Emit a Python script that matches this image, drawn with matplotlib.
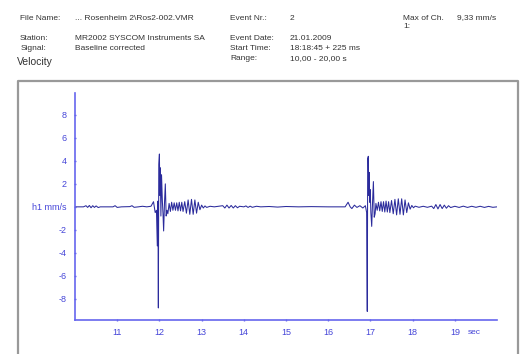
import matplotlib
matplotlib.use("Agg")
import matplotlib.pyplot as plt
from matplotlib.lines import Line2D

plt.rcParams['font.family'] = ['Liberation Sans', 'DejaVu Sans']

# trace: time (s) and velocity (mm/s) at the turning points
t_pre = [10.0, 10.2, 10.26, 10.3, 10.34, 10.38, 10.42, 10.46, 10.5, 10.55, 10.6, 10.9, 10.95, 11.0,
         11.1, 11.3, 11.35, 11.4, 11.5, 11.6, 11.7, 11.8]
v_pre = [0.0, 0.0, 0.1, -0.05, 0.12, -0.08, 0.1, -0.05, 0.08, -0.06, 0.0, 0.0, 0.1, -0.05,
         0.0, 0.02, 0.1, -0.04, 0.0, 0.05, 0.0, 0.05]

t_ev1 = [11.86, 11.90, 11.93, 11.95, 11.965, 11.975, 11.985, 12.0, 12.01, 12.02, 12.035, 12.05,
         12.07, 12.085, 12.1, 12.12, 12.14, 12.16, 12.18, 12.2, 12.23, 12.26, 12.29, 12.32, 12.35,
         12.38, 12.41, 12.44, 12.47, 12.5, 12.53, 12.56, 12.6, 12.64, 12.68, 12.72, 12.76, 12.8,
         12.84, 12.88, 12.92, 12.96, 13.0, 13.04, 13.08, 13.12]
v_ev1 = [0.45, -0.5, -0.3, -3.4, 0.5, -8.8, 3.7, 4.6, 1.0, 3.4, -0.8, 2.8,
         0.5, -0.6, -2.1, 0.3, 2.0, -0.8, -0.3, -0.6, 0.3, -0.4, 0.4, -0.3, 0.35,
         -0.3, 0.35, -0.35, 0.4, -0.35, 0.4, -0.4, 0.45, -0.55, 0.6, -0.65, 0.65, -0.65,
         0.6, -0.55, 0.4, -0.25, 0.15, -0.1, 0.08, -0.05]

t_mid = [13.2, 13.3, 13.5, 13.55, 13.6, 13.65, 13.7, 13.75, 13.8, 13.85, 13.9, 14.0, 14.05, 14.1,
         14.15, 14.2, 14.3, 14.4, 14.6, 14.8, 15.0, 15.3, 15.6, 16.0, 16.3, 16.4, 16.47, 16.52,
         16.56, 16.62, 16.68, 16.75, 16.82, 16.88]
v_mid = [0.05, 0.0, 0.1, -0.1, 0.15, -0.1, 0.12, -0.1, 0.1, -0.08, 0.05, 0.0, 0.08, -0.05,
         0.06, -0.04, 0.05, 0.0, 0.03, -0.02, 0.03, 0.0, 0.02, 0.0, 0.0, 0.0, 0.4, 0.0,
         -0.15, 0.15, -0.05, 0.1, -0.1, 0.1]

t_ev2 = [16.91, 16.925, 16.935, 16.95, 16.96, 16.97, 16.98, 16.995, 17.01, 17.03, 17.05, 17.07,
         17.09, 17.11, 17.13, 17.16, 17.19, 17.22, 17.25, 17.28, 17.31, 17.34, 17.37, 17.40,
         17.43, 17.46, 17.5, 17.54, 17.58, 17.62, 17.66, 17.7, 17.74, 17.78, 17.82, 17.86, 17.9,
         17.94, 17.98, 18.02, 18.06]
v_ev2 = [-0.5, -9.1, 4.2, 4.4, 1.0, 3.0, 0.4, 1.5, -0.5, -1.7, 0.4, 2.2,
         -0.9, -0.6, 0.3, -0.3, 0.4, -0.35, 0.45, -0.4, 0.45, -0.45, 0.5, -0.45,
         0.45, -0.5, 0.55, -0.6, 0.65, -0.7, 0.7, -0.65, 0.7, -0.7, 0.6, -0.5, 0.35,
         -0.2, 0.12, -0.08, 0.06]

t_post = [18.15, 18.25, 18.35, 18.45, 18.5, 18.55, 18.6, 18.65, 18.7, 18.75, 18.8, 18.85, 18.9,
          19.0, 19.1, 19.2, 19.3, 19.4, 19.5, 19.6, 19.7, 19.8, 19.9, 20.0]
v_post = [-0.04, 0.05, -0.04, 0.06, -0.15, 0.2, -0.18, 0.2, -0.15, 0.15, -0.12, 0.1, -0.06,
          0.05, -0.05, 0.06, -0.05, 0.05, -0.04, 0.05, -0.05, 0.04, -0.04, 0.0]

t = t_pre + t_ev1 + t_mid + t_ev2 + t_post
v = v_pre + v_ev1 + v_mid + v_ev2 + v_post

x_ticks = [11, 12, 13, 14, 15, 16, 17, 18, 19]
y_ticks = [-8, -6, -4, -2, 0, 2, 4, 6, 8]
y_labels = ['-8', '-6', '-4', '-2', 'h1 mm/s', '2', '4', '6', '8']

axis_blue = '#6666ee'
text_blue = '#4545d8'

fig = plt.figure(figsize=(5.23, 3.54), dpi=100)
ax = fig.add_axes([0.1434, 0.096, 0.807, 0.641])
ax.plot(t, v, color='#2b2b9c', linewidth=0.75)
ax.set_xlim(10, 20)
ax.set_ylim(-9.85, 9.9)

for side in ['top', 'right']:
    ax.spines[side].set_visible(False)
for side in ['left', 'bottom']:
    ax.spines[side].set_color(axis_blue)
    ax.spines[side].set_linewidth(1.2)

ax.set_xticks(x_ticks)
ax.set_xticklabels([str(x) for x in x_ticks])
ax.set_yticks(y_ticks)
ax.set_yticklabels(y_labels)
ax.tick_params(axis='both', colors=axis_blue, labelcolor=text_blue, labelsize=6.5,
               length=1.5, width=1, direction='inout')
ax.tick_params(axis='x', pad=5)
ax.tick_params(axis='y', pad=5.5)
ax.annotate('sec', xy=(19.3, 0), xycoords=('data', 'axes fraction'), xytext=(0, -6.5),
            textcoords='offset points', fontsize=6, color=text_blue, ha='left', va='top')

# grey frame around the plot area (bottom edge is off the page)
fx = [18 / 523, 18 / 523, 518 / 523, 518 / 523]
fy = [-0.05, 1 - 81 / 354, 1 - 81 / 354, -0.05]
fig.add_artist(Line2D(fx, fy, transform=fig.transFigure, color='#999999', linewidth=1.6))

# header block
hdr = '#333333'
fs = 6
rows = [
    (18, [(20, 'File Name:'), (75, '... Rosenheim 2\\Ros2-002.VMR'), (230, 'Event Nr.:'),
          (290, '2'), (403, 'Max of Ch.'), (457, '9,33 mm/s')]),
    (27, [(403, '1:')]),
    (39, [(20, 'Station:'), (75, 'MR2002 SYSCOM Instruments SA'), (230, 'Event Date:'),
          (290, '21.01.2009')]),
    (48, [(21, 'Signal:'), (75, 'Baseline corrected'), (230, 'Start Time:'),
          (290, '18:18:45 + 225 ms')]),
    (59, [(230, 'Range:'), (290, '10,00 - 20,00 s')]),
]
for y, items in rows:
    for x, s in items:
        fig.text(x / 523, 1 - y / 354, s, fontsize=fs, color=hdr, ha='left', va='center')
fig.text(17 / 523, 1 - 62 / 354, 'Velocity', fontsize=7.5, color=hdr, ha='left', va='center')

fig.savefig('out.png', dpi=100)
